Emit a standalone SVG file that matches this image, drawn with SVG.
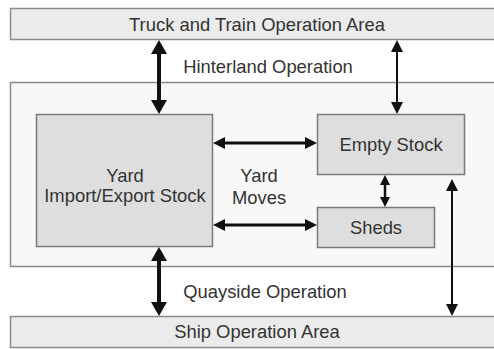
<svg xmlns="http://www.w3.org/2000/svg" width="494" height="349" viewBox="0 0 494 349">
<style>
text{font-family:"Liberation Sans",Arial,sans-serif;font-size:18.4px;fill:#333;text-anchor:middle}
.bar{fill:#ebebeb;stroke:#8a8a8a;stroke-width:1.5}
.area{fill:#f8f8f8;stroke:#8a8a8a;stroke-width:1.5}
.box{fill:#dedede;stroke:#7a7a7a;stroke-width:1.5}
.ln{stroke:#111;fill:none}
.hd{fill:#111}
</style>
<rect width="494" height="349" fill="#fff"/>
<g id="truck-train">
<rect class="bar" x="10.5" y="8.5" width="490" height="31"/>
<text x="257" y="31">Truck and Train Operation Area</text>
</g>
<g id="terminal">
<rect class="area" x="10.5" y="82.5" width="490" height="184"/>
</g>
<g id="yard-stock">
<rect class="box" x="36.5" y="114.5" width="176" height="132"/>
<text x="125" y="182">Yard</text>
<text x="125" y="202">Import/Export Stock</text>
</g>
<g id="empty-stock">
<rect class="box" x="317.5" y="114.5" width="147" height="60"/>
<text x="391" y="151">Empty Stock</text>
</g>
<g id="sheds">
<rect class="box" x="317.5" y="207.5" width="117" height="40"/>
<text x="376" y="234">Sheds</text>
</g>
<g id="ship">
<rect class="bar" x="10.5" y="316.5" width="490" height="31"/>
<text x="257" y="338">Ship Operation Area</text>
</g>
<g id="labels">
<text x="268" y="73">Hinterland Operation</text>
<text x="259" y="182">Yard</text>
<text x="259" y="204">Moves</text>
<text x="265" y="298">Quayside Operation</text>
</g>
<g id="connectors">
<line class="ln" stroke-width="4" x1="159" y1="52" x2="159" y2="102"/>
<polygon class="hd" points="159,40 151,54 167,54"/>
<polygon class="hd" points="159,114 151,100 167,100"/>
<line class="ln" stroke-width="4" x1="159" y1="259" x2="159" y2="304"/>
<polygon class="hd" points="159,247 151,261 167,261"/>
<polygon class="hd" points="159,316 151,302 167,302"/>
<line class="ln" stroke-width="2" x1="397" y1="50" x2="397" y2="104"/>
<polygon class="hd" points="397,40 391,52 403,52"/>
<polygon class="hd" points="397,114 391,102 403,102"/>
<line class="ln" stroke-width="3" x1="224" y1="143" x2="306" y2="143"/>
<polygon class="hd" points="213,143 225,137 225,149"/>
<polygon class="hd" points="317,143 305,137 305,149"/>
<line class="ln" stroke-width="3" x1="224" y1="225" x2="306" y2="225"/>
<polygon class="hd" points="213,225 225,219 225,231"/>
<polygon class="hd" points="317,225 305,219 305,231"/>
<line class="ln" stroke-width="2.5" x1="385" y1="183" x2="385" y2="199"/>
<polygon class="hd" points="385,175 380,185 390,185"/>
<polygon class="hd" points="385,207 380,197 390,197"/>
<line class="ln" stroke-width="2" x1="452" y1="190" x2="452" y2="306"/>
<polygon class="hd" points="452,179 446,191 458,191"/>
<polygon class="hd" points="452,316 446,304 458,304"/>
</g>
</svg>
